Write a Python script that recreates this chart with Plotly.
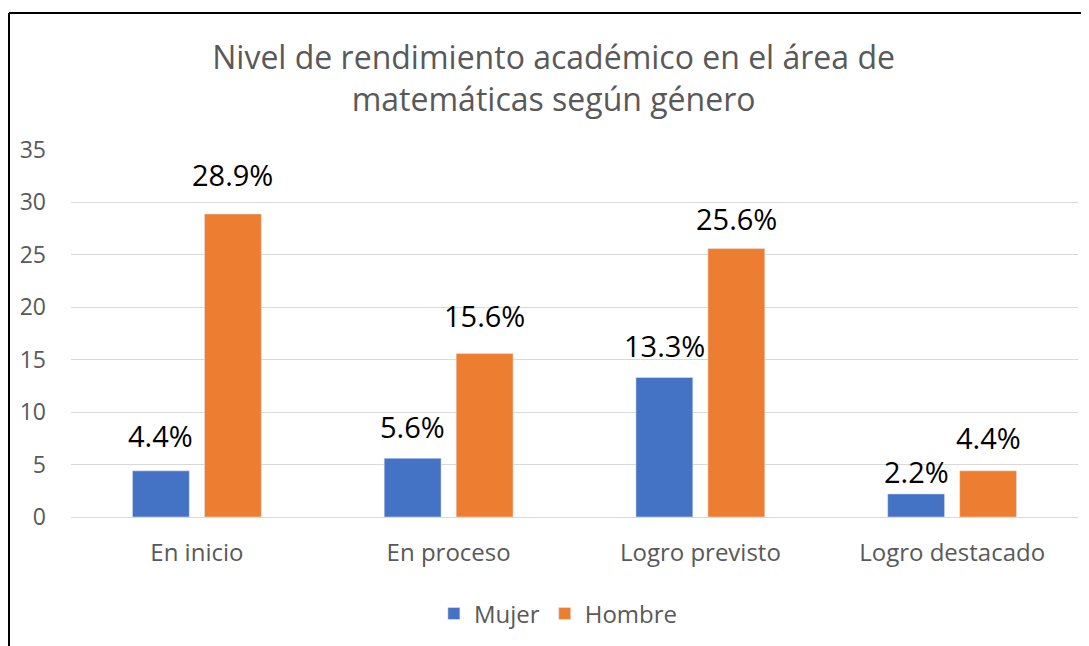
import plotly.graph_objects as go

categories = ["En inicio", "En proceso", "Logro previsto", "Logro destacado"]
mujer = [4.4, 5.6, 13.3, 2.2]
hombre = [28.9, 15.6, 25.6, 4.4]
y_ticks = [0, 5, 10, 15, 20, 25, 30, 35]

BLUE = "#4472C4"
ORANGE = "#ED7D31"
GRAY = "#595959"
FONT = "Open Sans"

BAR_W = 0.226
OFF_M = -0.256
OFF_H = 0.030
CAT_PX = 1007 / 4
# pixel lift of each data label above its bar (as placed in the original)
LIFT_M = [14, 10, 11, 1]
LIFT_H = [18, 16, 9, 12]

fig = go.Figure()
fig.add_trace(go.Bar(
    x=categories, y=mujer, name="Mujer", marker_color=BLUE,
    width=BAR_W, offset=OFF_M,
))
fig.add_trace(go.Bar(
    x=categories, y=hombre, name="Hombre", marker_color=ORANGE,
    width=BAR_W, offset=OFF_H,
))

annotations = []
for series, off, lifts in ((mujer, OFF_M, LIFT_M), (hombre, OFF_H, LIFT_H)):
    shift = (off + BAR_W / 2) * CAT_PX
    for cat, v, lift in zip(categories, series, lifts):
        annotations.append(dict(
            x=cat, y=v, xref="x", yref="y", text=f"{v:.1f}%",
            showarrow=False, xanchor="center", yanchor="bottom",
            xshift=shift, yshift=lift,
            font=dict(size=29, color="#000000", family=FONT),
        ))

PX0 = (1 - 63) / 1007
PY1 = 1 + (142 - 5) / 367

fig.update_layout(
    width=1089, height=646,
    margin=dict(l=63, r=19, t=142, b=137),
    paper_bgcolor="white", plot_bgcolor="white",
    barmode="group",
    font=dict(family=FONT, color=GRAY),
    title=dict(
        text="Nivel de rendimiento académico en el área de<br>matemáticas según género",
        x=0.501, xanchor="center", y=0.905, yanchor="middle",
        font=dict(size=32, color=GRAY, family=FONT),
    ),
    legend=dict(
        orientation="h", x=0.484, xanchor="center", y=-0.264, yanchor="middle",
        font=dict(size=24, color=GRAY, family=FONT),
        tracegroupgap=0,
    ),
    showlegend=True,
    xaxis=dict(
        showgrid=False, showline=False, ticks="",
        tickfont=dict(size=24, color=GRAY, family=FONT),
        ticklabelstandoff=19,
    ),
    yaxis=dict(
        range=[0, 35], tickvals=y_ticks,
        showgrid=True, gridcolor="#D9D9D9", gridwidth=1,
        zeroline=True, zerolinecolor="#D9D9D9", zerolinewidth=1,
        showline=False, ticks="",
        tickfont=dict(size=23, color=GRAY, family=FONT),
        ticklabelstandoff=24,
    ),
    annotations=annotations,
    shapes=[
        dict(type="line", xref="paper", yref="paper",
             x0=PX0, x1=1.2, y0=PY1, y1=PY1,
             line=dict(color="#000000", width=2)),
        dict(type="line", xref="paper", yref="paper",
             x0=PX0, x1=PX0, y0=PY1, y1=-0.5,
             line=dict(color="#000000", width=2)),
    ],
)

fig.write_html("out.html")
